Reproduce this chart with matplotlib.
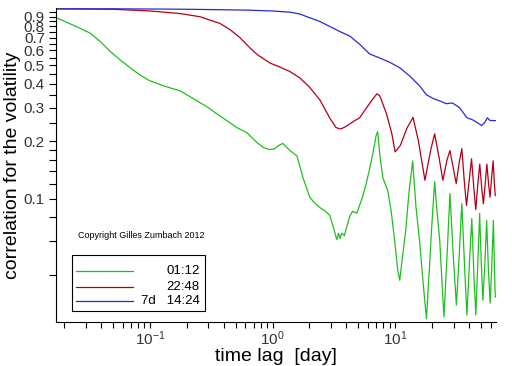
import matplotlib
matplotlib.use("Agg")
import matplotlib.pyplot as plt
from matplotlib.ticker import FixedLocator, FormatStrFormatter, LogLocator, NullFormatter
from matplotlib.patches import Rectangle
from matplotlib.lines import Line2D

plt.rcParams['font.family'] = ['Liberation Sans', 'DejaVu Sans']

# time lag in days, correlation of the volatility
green_lag = [0.0174, 0.025, 0.0325, 0.04, 0.047, 0.057, 0.069, 0.083, 0.1, 0.13,
             0.176, 0.242, 0.3, 0.351, 0.43, 0.512, 0.618, 0.745, 0.85, 0.95,
             1.04, 1.12, 1.21, 1.4, 1.58, 1.77, 2.01, 2.2, 2.43, 2.7,
             2.93, 3.15, 3.34, 3.45, 3.55, 3.66, 3.85, 4.05, 4.26, 4.5,
             4.87, 5.4, 5.8, 6.2, 6.6, 7.0, 7.2, 7.5, 7.93, 8.7,
             9.3, 9.9, 10.5, 10.9, 11.5, 12.2, 13.0, 13.9, 14.8, 15.8,
             17.0, 18.0, 18.9, 19.8, 21.0, 22.0, 23.1, 24.2, 25.0, 26.5,
             28.0, 29.8, 31.6, 33.3, 35.0, 36.8, 38.5, 40.3, 42.2, 43.9,
             45.5, 47.2, 48.9, 50.5, 52.0, 53.9, 55.8, 57.7, 59.6, 61.5,
             63.3, 64.5, 65.6]
green_corr = [0.886, 0.80, 0.738, 0.66, 0.594, 0.535, 0.486, 0.445, 0.415, 0.39,
              0.368, 0.326, 0.30, 0.279, 0.255, 0.236, 0.222, 0.197, 0.185, 0.181,
              0.183, 0.19, 0.195, 0.178, 0.168, 0.129, 0.102, 0.095, 0.090, 0.086,
              0.0818, 0.07, 0.061, 0.066, 0.062, 0.066, 0.064, 0.072, 0.081, 0.086,
              0.084, 0.1016, 0.12, 0.144, 0.175, 0.215, 0.225, 0.17, 0.129, 0.1105,
              0.085, 0.0606, 0.0422, 0.0374, 0.05, 0.0683, 0.11, 0.158, 0.09, 0.0606,
              0.035, 0.0235, 0.04, 0.0683, 0.123, 0.085, 0.0606, 0.035, 0.024, 0.05,
              0.1066, 0.05, 0.0277, 0.05, 0.0945, 0.045, 0.0246, 0.045, 0.0789, 0.04,
              0.0246, 0.045, 0.0838, 0.045, 0.0294, 0.045, 0.077, 0.042, 0.0284, 0.045,
              0.077, 0.045, 0.0305]

red_lag = [0.0171, 0.05, 0.1, 0.176, 0.256, 0.372, 0.45, 0.541, 0.65, 0.75,
           0.95, 1.15, 1.38, 1.67, 2.0, 2.43, 2.93, 3.3, 3.6, 4.0,
           4.6, 5.14, 5.85, 6.5, 7.1, 7.5, 8.5, 9.4, 10.0, 11.0,
           12.5, 14.0, 15.5, 17.5, 19.5, 21.0, 22.8, 24.5, 26.5, 28.0,
           29.8, 31.5, 33.3, 35.0, 36.6, 38.2, 40.2, 42.0, 43.8, 45.5,
           47.3, 49.0, 50.8, 52.5, 54.3, 56.0, 57.8, 59.5, 61.3, 63.0,
           64.5, 65.6]
red_corr = [0.99, 0.985, 0.965, 0.935, 0.90, 0.83, 0.77, 0.70, 0.62, 0.57,
            0.515, 0.49, 0.465, 0.43, 0.385, 0.33, 0.265, 0.236, 0.232, 0.24,
            0.255, 0.266, 0.30, 0.33, 0.355, 0.346, 0.279, 0.219, 0.176, 0.19,
            0.235, 0.267, 0.2, 0.125, 0.18, 0.219, 0.165, 0.125, 0.16, 0.179,
            0.145, 0.12, 0.155, 0.183, 0.125, 0.0923, 0.125, 0.162, 0.115, 0.0877,
            0.12, 0.152, 0.115, 0.094, 0.12, 0.152, 0.12, 0.102, 0.13, 0.158,
            0.12, 0.104]

blue_lag = [0.0171, 0.05, 0.1, 0.2, 0.35, 0.6, 1.0, 1.4, 1.67, 2.0,
            2.43, 2.93, 3.5, 4.26, 5.14, 6.2, 7.48, 9.0, 10.9, 13.1,
            15.8, 18.0, 20.5, 23.1, 26.1, 29.3, 33.6, 38.5, 43.0, 47.0,
            50.9, 53.5, 56.7, 59.0, 61.3, 64.0, 66.5]
blue_corr = [0.99, 0.99, 0.988, 0.985, 0.98, 0.975, 0.965, 0.95, 0.93, 0.89,
             0.85, 0.80, 0.755, 0.713, 0.645, 0.574, 0.547, 0.52, 0.486, 0.441,
             0.391, 0.351, 0.335, 0.326, 0.315, 0.318, 0.30, 0.266, 0.259, 0.25,
             0.242, 0.25, 0.266, 0.258, 0.257, 0.257, 0.257]

labels = ["01:12", "22:48", "7d   14:24"]
colors = ["#1ec01e", "#b00018", "#2a2acc"]

fig = plt.figure(figsize=(5.12, 3.66), dpi=100)
ax = fig.add_axes([56/512, 1-322/366, 440/512, 314/366])

for lag, corr, c in zip([green_lag, red_lag, blue_lag],
                        [green_corr, red_corr, blue_corr], colors):
    ax.plot(lag, corr, color=c, lw=0.9)

ax.set_xscale('log')
ax.set_yscale('log')
ax.set_xlim(0.0171, 66.5)
ax.set_ylim(0.0226, 1.0)

for s in ['top', 'right']:
    ax.spines[s].set_visible(False)
for s in ['left', 'bottom']:
    ax.spines[s].set_linewidth(0.8)

ax.yaxis.set_major_locator(FixedLocator([0.1, 0.2, 0.3, 0.4, 0.5, 0.6, 0.7, 0.8, 0.9]))
ax.yaxis.set_major_formatter(FormatStrFormatter('%.1f'))
ax.yaxis.set_minor_locator(FixedLocator([0.04, 0.06, 0.08, 0.12, 0.14, 0.16, 0.18,
                                         0.25, 0.35, 0.45, 0.55, 0.65, 0.75, 0.85, 0.95]))
ax.yaxis.set_minor_formatter(NullFormatter())
ax.xaxis.set_major_locator(LogLocator(base=10))
ax.xaxis.set_minor_locator(LogLocator(base=10, subs=range(2, 10)))
ax.xaxis.set_minor_formatter(NullFormatter())

ax.tick_params(axis='y', which='both', length=5, width=0.8, pad=3,
               labelsize=11, labelcolor='#333333')
ax.tick_params(axis='x', which='both', length=4, width=0.8, pad=1,
               labelsize=11, labelcolor='#333333')

ax.set_xlabel('time lag  [day]', fontsize=14)
ax.set_ylabel('correlation for the volatility', fontsize=14)
ax.xaxis.set_label_coords(0.5, -0.082)
ax.yaxis.set_label_coords(-0.08, 0.5)

ax.text(0.05, 0.277, 'Copyright Gilles Zumbach 2012', transform=ax.transAxes,
        fontsize=6.5, va='center', ha='left')

# legend box drawn by hand so the labels can be right aligned
ax.add_patch(Rectangle((0.036, 0.035), 0.303, 0.178, transform=ax.transAxes,
                       facecolor='white', edgecolor='black', lw=0.8, zorder=5))
for yy, lab, c in zip([0.162, 0.113, 0.067], labels, colors):
    ax.add_line(Line2D([0.045, 0.175], [yy, yy], transform=ax.transAxes,
                       color=c, lw=0.9, zorder=6))
    ax.text(0.327, yy, lab, transform=ax.transAxes, fontsize=9.5,
            ha='right', va='center', zorder=6)

fig.savefig('out.png', dpi=100)
